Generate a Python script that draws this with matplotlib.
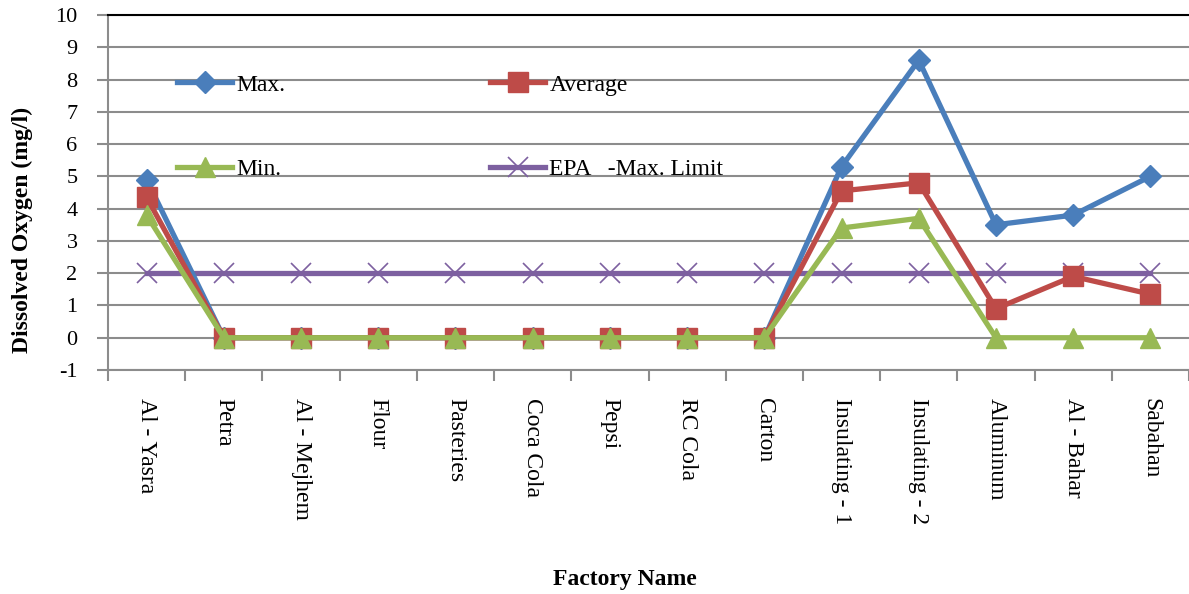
import matplotlib
matplotlib.use("Agg")
import matplotlib.pyplot as plt
from matplotlib.lines import Line2D

plt.rcParams['font.family'] = ['Liberation Serif', 'DejaVu Serif']

factories = ["Al - Yasra", "Petra", "Al - Mejhem", "Flour", "Pasteries", "Coca Cola",
             "Pepsi", "RC Cola", "Carton", "Insulating - 1", "Insulating - 2",
             "Aluminum", "Al - Bahar", "Sabahan"]
do_max = [4.9, 0, 0, 0, 0, 0, 0, 0, 0, 5.3, 8.6, 3.5, 3.8, 5.0]
do_avg = [4.35, 0, 0, 0, 0, 0, 0, 0, 0, 4.55, 4.8, 0.9, 1.9, 1.35]
do_min = [3.8, 0, 0, 0, 0, 0, 0, 0, 0, 3.4, 3.7, 0, 0, 0]
epa_limit = [2] * 14
y_ticks = list(range(-1, 11))

W, H = 1189, 594
fig = plt.figure(figsize=(W / 100, H / 100), dpi=100)
ax = fig.add_axes([108 / W, 1 - 370 / H, 1 - 108 / W, (370 - 15) / H])

x = list(range(len(factories)))
ax.plot(x, do_max, color='#4a7ebb', lw=3.8, marker='D', ms=11, zorder=4)
ax.plot(x, do_avg, color='#be4b48', lw=3.8, marker='s', ms=14, zorder=5)
ax.plot(x, do_min, color='#98b954', lw=3.8, marker='^', ms=14, zorder=6)
ax.plot(x, epa_limit, color='#7d60a0', lw=3.8, zorder=3)
ax.plot(x, epa_limit, ls='none', marker='x', ms=15, mew=1.2, color='#7d60a0', zorder=3)

ax.set_xlim(-0.5, len(factories) - 0.5)
ax.set_ylim(-1, 10)
ax.set_yticks(y_ticks)
ax.set_yticklabels([str(v) for v in y_ticks], fontsize=16)
ax.yaxis.grid(True, color='#8c8c8c', lw=1.5)
ax.set_axisbelow(True)

# category labels centred under each point, tick marks on the boundaries
ax.set_xticks(x)
ax.set_xticklabels(factories, rotation=-90, fontsize=17, va='top', ha='center')
ax.tick_params(axis='x', length=0, pad=20)
ax.set_xticks([i - 0.5 for i in range(len(factories) + 1)], minor=True)
ax.tick_params(axis='x', which='minor', length=8, width=1.5, color='#8c8c8c')
ax.tick_params(axis='y', length=8, width=1.5, color='#8c8c8c', pad=14)

for side in ('left', 'bottom'):
    ax.spines[side].set_color('#8c8c8c')
    ax.spines[side].set_linewidth(1.5)
ax.spines['right'].set_visible(False)
ax.spines['top'].set_color('black')
ax.spines['top'].set_linewidth(1.5)

fig.text(22 / W, 1 - 230 / H, 'Dissolved Oxygen (mg/l)', fontsize=17, fontweight='bold',
         rotation=90, ha='center', va='center')
fig.text(625 / W, 1 - 580 / H, 'Factory Name', fontsize=17, fontweight='bold',
         ha='center', va='center')

mk_max = Line2D([], [], color='#4a7ebb', lw=3.8, marker='D', ms=11)
mk_avg = Line2D([], [], color='#be4b48', lw=3.8, marker='s', ms=14)
mk_min = Line2D([], [], color='#98b954', lw=3.8, marker='^', ms=14)
mk_epa = Line2D([], [], color='#7d60a0', lw=3.8, marker='x', ms=15, mew=1.2)
ax.legend([mk_max, mk_min, mk_avg, mk_epa],
          ['Max.', 'Min.', 'Average', 'EPA   -Max. Limit'],
          ncol=2, frameon=False, fontsize=17, handlelength=2.33,
          handletextpad=0.17, labelspacing=2.67, columnspacing=8.7,
          borderpad=0, borderaxespad=0, loc='upper left',
          bbox_to_anchor=(177 / W, 1 - 74 / H),
          bbox_transform=fig.transFigure)

fig.savefig('out.png', dpi=100)
